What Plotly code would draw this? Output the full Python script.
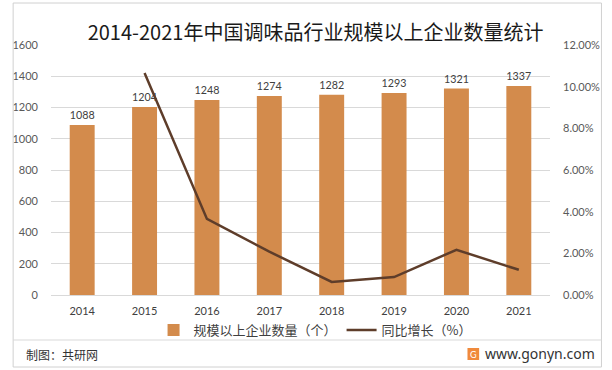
import plotly.graph_objects as go

years = ["2014", "2015", "2016", "2017", "2018", "2019", "2020", "2021"]
counts = [1088, 1204, 1248, 1274, 1282, 1293, 1321, 1337]
growth = [None, 0.1066, 0.0365, 0.0208, 0.0063, 0.0086, 0.0217, 0.0121]

bar_color = "#D38B4C"
line_color = "#5E3D2A"
num_font = "Lato, Liberation Sans, sans-serif"
cjk_font = "Noto Sans CJK SC, sans-serif"

fig = go.Figure()
fig.add_trace(go.Bar(
    x=years, y=counts, name="规模以上企业数量（个）",
    marker=dict(color=bar_color, line=dict(width=0)),
    width=0.4,
    text=[str(v) for v in counts], textposition="outside",
    textfont=dict(family=num_font, size=12, color="#404040"),
    cliponaxis=False,
))
fig.add_trace(go.Scatter(
    x=years, y=growth, name="同比增长（%）", yaxis="y2",
    mode="lines", line=dict(color=line_color, width=2.5),
    connectgaps=False,
))

W, H = 612, 370
ml, mr, mt, mb = 42, 56, 45, 75
pw, ph = W - ml - mr, H - mt - mb

def px_x(x):
    return (x - ml) / pw

def px_y(y):
    return (H - mb - y) / ph

fig.update_layout(
    width=W, height=H,
    margin=dict(l=ml, r=mr, t=mt, b=mb, pad=0),
    paper_bgcolor="white", plot_bgcolor="white",
    bargap=0.6,
    title=dict(text="2014-2021年中国调味品行业规模以上企业数量统计",
               x=px_x(307), xanchor="center", y=1 - 33 / H, yanchor="middle",
               font=dict(family=cjk_font, size=20, color="#1a1a1a")),
    xaxis=dict(
        type="category", showgrid=False, showline=True, linecolor="#D9D9D9",
        ticks="", tickfont=dict(family=num_font, size=11, color="#404040"),
        ticklabelstandoff=6,
    ),
    yaxis=dict(
        range=[0, 1600], dtick=200, showgrid=True, gridcolor="#D9D9D9", gridwidth=1,
        zeroline=False, ticks="", tickfont=dict(family=num_font, size=11, color="#595959"),
        ticklabelstandoff=12,
    ),
    yaxis2=dict(
        range=[0, 0.12], dtick=0.02, tickformat=".2%", overlaying="y", side="right",
        showgrid=False, zeroline=False, ticks="",
        tickfont=dict(family=num_font, size=11, color="#595959"),
        ticklabelstandoff=12,
    ),
    legend=dict(orientation="h", x=px_x(314), xanchor="center", y=px_y(330), yanchor="middle",
                font=dict(family=cjk_font, size=13, color="#404040"),
                itemwidth=30, tracegroupgap=0, bgcolor="rgba(0,0,0,0)"),
    showlegend=True,
)

# frame and separator
fig.add_shape(type="rect", xref="paper", yref="paper",
              x0=px_x(3), x1=px_x(609), y0=px_y(367), y1=px_y(3),
              line=dict(color="#D0D0D0", width=1), fillcolor="rgba(0,0,0,0)")
fig.add_shape(type="line", xref="paper", yref="paper",
              x0=px_x(3), x1=px_x(609), y0=px_y(340), y1=px_y(340),
              line=dict(color="#D9D9D9", width=1))

# footer
fig.add_annotation(text="制图：共研网", xref="paper", yref="paper",
                   x=px_x(14), y=px_y(354), xanchor="left", yanchor="middle",
                   showarrow=False, font=dict(family=cjk_font, size=12, color="#333333"))
fig.add_shape(type="rect", xref="paper", yref="paper",
              x0=px_x(471), x1=px_x(483), y0=px_y(360), y1=px_y(348),
              line=dict(width=0), fillcolor="#F08A3C")
fig.add_annotation(text="G", xref="paper", yref="paper",
                   x=px_x(477), y=px_y(354), xanchor="center", yanchor="middle",
                   showarrow=False, font=dict(family=num_font, size=9, color="white"))
fig.add_annotation(text="www.gonyn.com", xref="paper", yref="paper",
                   x=px_x(604), y=px_y(353), xanchor="right", yanchor="middle",
                   showarrow=False, font=dict(family="Noto Sans, sans-serif", size=14, color="#333333"))

fig.write_html("out.html", config={"displayModeBar": False},
               post_script="document.body.style.margin='0';")
